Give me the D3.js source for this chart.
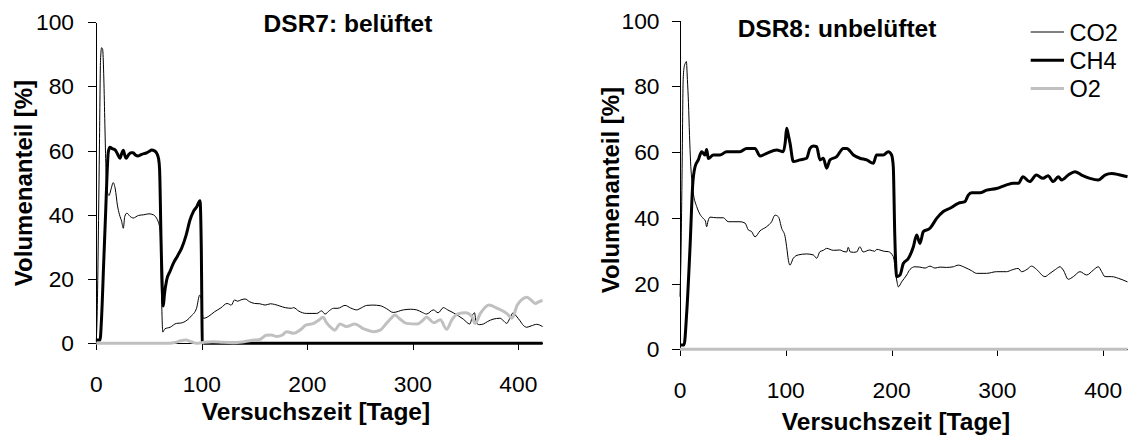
<!DOCTYPE html>
<html lang="de">
<head>
<meta charset="utf-8">
<script src="https://cdn.jsdelivr.net/npm/d3@7"></script>
<style>
  html, body { margin: 0; padding: 0; background: #fff; }
  svg { display: block; font-family: "Liberation Sans", Arial, sans-serif; }
</style>
</head>
<body>
<svg id="chart" width="1128" height="435"></svg>
<script>
// Gas composition [Vol-%] over test duration [days] for the two reactors.
const seriesNames = ["CO2", "CH4", "O2"];
const yTicks = [0, 20, 40, 60, 80, 100];
const xTicks = [0, 100, 200, 300, 400];

const dsr7CO2 = [[0,0.5],[1,12],[2,35],[3,62],[4,88],[5,92],[6,91.5],[7,84],[8,70],[9,56],[10,48],[12,46],[14,48],[16,50],[18,48],[20,43],[22,40],[24,38],[25.6,35.8],[27,39.5],[29,40.5],[32,39.5],[35,39],[40,39.8],[45,40],[50,40.3],[54,40],[57,39],[59,37.5],[60.5,35],[62,12],[63,3.5],[65,4.5],[70,5],[76,6.2],[80,6.3],[86,7.2],[90,8.5],[95,10.9],[98,15],[100,13],[101,8],[102,7.8],[106,8.3],[112,9.8],[118,11],[124,12.4],[128,11.9],[131,13.5],[134,13.1],[137,13.5],[141,13.8],[145,13],[150,12.4],[155,12.3],[160,11.9],[165,12.3],[169,12.1],[174,11.6],[179,11.1],[185,10.9],[187,11.1],[192,10],[199,9.3],[209,9.3],[213.6,10.1],[216.8,9.1],[221,10.2],[225,10.9],[229,10.9],[235.7,11.8],[241,11],[246.8,10.4],[251,11],[256.3,11.8],[262,11.9],[269,11.7],[275,10.8],[281.5,9.6],[291,10.4],[298,10.6],[303.7,10.4],[309,9.6],[313,9.1],[319.5,10.4],[324,9.5],[329,11.1],[333,10.4],[338.4,9.5],[343,8.6],[347.9,7.5],[354,6],[357,9],[358.5,9.5],[360,6.5],[363,5.8],[366.8,6],[371,6.8],[376,7.5],[382.6,7.8],[386,7],[389,6.2],[392,7.8],[395,9.5],[398,8.5],[401.6,7],[405,5.5],[408,5],[412,5.4],[417.4,5.9],[423,5.2]];
const dsr7CH4 = [[0,1],[3.5,1],[5,8],[7,25],[9,42],[10,51],[11.4,59.6],[12.9,61],[15,60.6],[17.8,60.2],[20,59],[22.5,57.6],[24,59],[25.6,60.1],[27,58.5],[28.2,57.6],[30.4,58.6],[33,59.3],[35,59.3],[37,58.6],[39.8,58.3],[43,58.8],[47.7,59.3],[50,59.7],[52.5,60.2],[55,59.9],[57.2,59.2],[59,57.5],[60,54],[61.5,30],[63.5,11.6],[64.5,15],[66.7,19.7],[70,22.5],[73,24.9],[77,27.2],[80.9,29.6],[85,33.5],[88.8,38.4],[92,41],[95.2,42.5],[98.3,44.4],[99.5,30],[100.5,0.5],[102,0],[423,0]];
const dsr7O2 = [[0,0],[70,0],[75,0.3],[80,0.8],[85,1],[90,0.5],[95,0],[100,0.2],[110,0.5],[120,0.3],[130,0.2],[140,0.5],[150,1],[155,1.2],[161,2.5],[166,2.6],[171,2.1],[176,2.5],[180.5,3.6],[187,3.1],[193,4.1],[199,5.7],[206,6.2],[210,7],[215,8.1],[218,6.5],[221.5,5.2],[226,4.1],[231,6],[237,5.2],[245,6],[253,4.6],[258,4],[263,3.6],[269,4.1],[275,6.2],[280,8],[283,8.8],[288,7.5],[294,6.2],[304,6],[309,7],[313,8.1],[320,6.4],[326,7.3],[332,4.4],[337,7.3],[342,9.1],[350,9.5],[356,8.3],[359,6.2],[364,9.3],[368,11],[372,11.9],[380,10.9],[389,9.3],[394,7.8],[399,11.9],[403,13.5],[408,14.3],[412,13.5],[416,12.4],[420,13],[423,13.3]];

const dsr8CO2 = [[0,16],[1,30],[2,55],[3,82],[4,86],[5,87],[6,87.5],[7,82],[8,75],[9,65],[10,57],[11,52],[12.6,47.4],[15.8,43.4],[19,41],[22,39.8],[24,39],[25.2,37.3],[26.5,39],[28.4,40.2],[34.7,40],[41,40],[45.6,38.8],[50,38.8],[56.7,38.8],[61.4,38.4],[64.6,36.3],[67.7,35.8],[70.9,34.2],[75.6,36],[81.9,37.3],[86.6,38.8],[89.8,40.8],[93,40.3],[96.1,36.8],[99.3,34.3],[100.8,31.2],[102.5,27],[103.9,25.6],[107.1,27.7],[111.8,28.7],[119.7,29],[126,28.7],[129.2,27.7],[132.3,29.7],[135.5,30.1],[138.6,30.7],[145,30.1],[151,30.2],[155,29.7],[157.6,29.6],[159,31],[161,29.6],[164,29.5],[167,29.6],[170,31.2],[173,29.6],[179.5,30.2],[184,29.8],[186,30.4],[189,30.2],[193,29.8],[196.9,29.7],[201.6,28.2],[204.8,21.1],[206.4,19],[209.5,20.5],[214.3,22.6],[217.4,24.3],[222.1,25.1],[226.8,25],[231.6,24.7],[236.3,25.3],[241,24.7],[245.8,25],[252,24.9],[258.3,25.1],[263,25.6],[269.3,24.9],[275.6,23.9],[280.3,23.1],[289.8,23.1],[299.2,23.6],[308.7,23.6],[313.4,24.1],[319.7,24.6],[322.8,23.6],[328,24.3],[332.3,25.3],[337,24.3],[344.9,22.1],[349.7,23.1],[355,24.3],[359.2,25.1],[362.3,24.1],[367,21.3],[371.8,22.1],[378.1,23.6],[384.4,22.6],[390.7,24.1],[395.4,25.1],[398.6,23.6],[401.7,22.1],[408,22.1],[414.3,21.6],[423,20.5]];
const dsr8CH4 = [[0,1.3],[3.8,1.3],[6.3,10.9],[9.5,31.2],[12,50],[14.2,55.5],[17.3,57.6],[20.5,60.1],[23.6,59.1],[25.2,60.8],[26.8,58],[31.5,59.1],[37.8,59.1],[44.1,60.1],[56.7,60.1],[63,61.1],[70.9,61.1],[75.6,58.8],[81.9,59.6],[91.4,60.6],[97.7,60.1],[99.5,63],[100.8,67.2],[102.5,65],[104,62.7],[107.1,57.1],[113.4,57.6],[119.7,58.1],[122.9,61.1],[126,61.8],[129.2,61.6],[132.3,57.6],[135.5,58.1],[138.6,55.1],[141.8,57.6],[148.1,58.6],[154.4,61.1],[157.6,61.1],[163.9,59.1],[170.1,58.1],[176.4,57.6],[182.7,56.6],[185.8,59.1],[192.1,59.1],[196.9,60.1],[200,59.1],[201.6,55.6],[203,35],[204.8,22.1],[208,22.6],[211.1,26.1],[215.8,27.6],[220.6,31.2],[223.7,34.8],[226.8,32.2],[230,35.8],[236.3,36.8],[242.6,39.8],[248.9,41.9],[255.2,42.9],[263,44.4],[269.3,44.9],[272.5,46.9],[275.6,47.6],[283.5,47.6],[289.8,48.4],[299.2,48.9],[308.7,50],[315,50.5],[320,50.5],[324.2,52.5],[330.5,51],[336.8,53],[343.1,52],[347.9,52.8],[352.8,51],[357.6,52.5],[360.7,51.5],[367,53],[373.3,54],[379.6,53],[387.5,52],[395.4,51.5],[401.7,53],[408,53.5],[416,53],[423,52.5]];
const dsr8O2 = [[0,0],[100,0],[200,0],[300,0],[423,0]];

const styles = {
  CO2: { stroke: "#000", width: 1 },
  CH4: { stroke: "#000", width: 3 },
  O2:  { stroke: "#c0c0c0", width: 3 }
};

const panels = [
  { title: "DSR7: belüftet", series: { CO2: dsr7CO2, CH4: dsr7CH4, O2: dsr7O2 },
    x0: 96.3, x1: 542.6, y0: 343.3, y1: 22, yLabelX: 74,
    titleX: 348, titleY: 32, xTitleX: 316, xTitleY: 420, yTitleX: 32, yTitleY: 183 },
  { title: "DSR8: unbelüftet", series: { CO2: dsr8CO2, CH4: dsr8CH4, O2: dsr8O2 },
    x0: 680, x1: 1127.5, y0: 349.3, y1: 20.5, yLabelX: 659.5,
    titleX: 837, titleY: 37, xTitleX: 896, xTitleY: 430, yTitleX: 619, yTitleY: 190 }
];

const svg = d3.select("#chart");
const tickFont = 22.8;

panels.forEach(p => {
  const x = d3.scaleLinear().domain([0, 423]).range([p.x0, p.x1]);
  const y = d3.scaleLinear().domain([0, 100]).range([p.y0, p.y1]);
  const g = svg.append("g");

  // axes
  const xAxis = g.append("g").attr("transform", `translate(0,${p.y0})`)
    .call(d3.axisBottom(x).tickValues(xTicks).tickSize(7).tickSizeOuter(0).tickFormat(""));
  const yAxis = g.append("g").attr("transform", `translate(${p.x0},0)`)
    .call(d3.axisLeft(y).tickValues(yTicks).tickSize(8).tickSizeOuter(0).tickFormat(""));
  [xAxis, yAxis].forEach(a => {
    a.selectAll("path, line").attr("stroke", "#000").attr("stroke-width", 1).attr("shape-rendering", "crispEdges");
  });

  // tick labels
  g.selectAll(".xl").data(xTicks).join("text")
    .attr("x", d => x(d)).attr("y", p.y0 + 48.5)
    .attr("text-anchor", "middle").attr("font-size", tickFont).text(d => d);
  g.selectAll(".yl").data(yTicks).join("text")
    .attr("x", p.yLabelX).attr("y", d => y(d) + 8)
    .attr("text-anchor", "end").attr("font-size", tickFont).text(d => d);

  // series lines
  const line = d3.line().x(d => x(d[0])).y(d => y(d[1])).curve(d3.curveMonotoneX);
  seriesNames.forEach(name => {
    g.append("path").datum(p.series[name])
      .attr("fill", "none")
      .attr("stroke", styles[name].stroke)
      .attr("stroke-width", styles[name].width)
      .attr("stroke-linejoin", "round")
      .attr("d", line);
  });

  // titles
  g.append("text").attr("x", p.titleX).attr("y", p.titleY)
    .attr("text-anchor", "middle").attr("font-weight", "bold").attr("font-size", 24.5).text(p.title);
  g.append("text").attr("x", p.xTitleX).attr("y", p.xTitleY)
    .attr("text-anchor", "middle").attr("font-weight", "bold").attr("font-size", 24.5).text("Versuchszeit [Tage]");
  g.append("text").attr("transform", `translate(${p.yTitleX},${p.yTitleY}) rotate(-90)`)
    .attr("text-anchor", "middle").attr("font-weight", "bold").attr("font-size", 24).text("Volumenanteil [%]");
});

// legend
const legend = svg.append("g");
seriesNames.forEach((name, i) => {
  const cy = 32 + i * 28.2;
  legend.append("line").attr("x1", 1030.7).attr("x2", 1064).attr("y1", cy).attr("y2", cy)
    .attr("stroke", styles[name].stroke).attr("stroke-width", styles[name].width);
  legend.append("text").attr("x", 1069.5).attr("y", cy + 8.5)
    .attr("font-size", 23.5).text(name);
});
</script>
</body>
</html>
